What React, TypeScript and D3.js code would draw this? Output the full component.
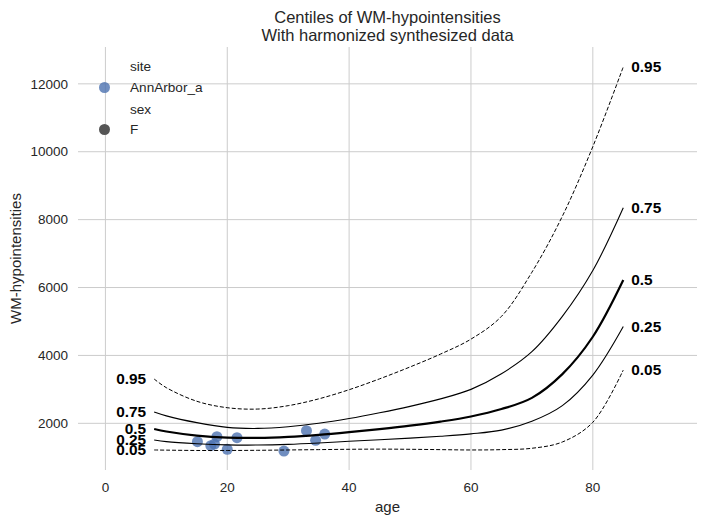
import React from 'react';
import * as d3 from 'd3';

// ages at which the centile curves are sampled
const ages = [8, 10, 15, 20, 25, 30, 35, 40, 45, 50, 55, 60, 65, 70, 75, 80, 85];

const c05 = [1215, 1210, 1200, 1200, 1205, 1215, 1225, 1235, 1240, 1235, 1225, 1215, 1225, 1265, 1450, 2030, 3570];
const c25 = [1508, 1460, 1400, 1365, 1360, 1380, 1420, 1470, 1515, 1565, 1620, 1690, 1800, 2060, 2520, 3420, 4850];
const c50 = [1832, 1760, 1640, 1580, 1570, 1600, 1660, 1740, 1830, 1930, 2050, 2200, 2420, 2750, 3450, 4550, 6220];
const c75 = [2333, 2220, 2020, 1880, 1850, 1900, 2000, 2140, 2310, 2500, 2720, 3000, 3460, 4110, 5150, 6500, 8350];
const c95 = [3305, 3050, 2650, 2460, 2420, 2520, 2720, 2990, 3310, 3660, 4040, 4480, 5150, 6450, 8100, 10150, 12500];

const centileLabels = ['0.05', '0.25', '0.5', '0.75', '0.95'];

// observed subjects (AnnArbor_a, F)
const subjAge = [15.1, 17.3, 17.9, 18.3, 20.0, 21.6, 29.3, 33.0, 34.5, 36.0];
const subjVal = [1458, 1340, 1390, 1605, 1234, 1576, 1184, 1782, 1499, 1685];

const xTicks = [0, 20, 40, 60, 80];
const yTicks = [2000, 4000, 6000, 8000, 10000, 12000];

const W = 708;
const H = 524;
const m = { left: 78, right: 697, top: 47, bottom: 470 };
const font = '"Liberation Sans", Arial, sans-serif';
const ink = '#262626';

export default function App() {
  const x = d3.scaleLinear().domain([-4.5, 97.1]).range([m.left, m.right]);
  const y = d3.scaleLinear().domain([625, 13085]).range([m.bottom, m.top]);

  const series = [c05, c25, c50, c75, c95];
  const line = d3
    .line<[number, number]>()
    .x((d) => x(d[0]))
    .y((d) => y(d[1]))
    .curve(d3.curveCatmullRom);

  const styleFor = (i: number) => {
    if (i === 0 || i === 4) return { w: 1, dash: '4,2' };
    if (i === 2) return { w: 2.2, dash: undefined };
    return { w: 1.1, dash: undefined };
  };

  const first = ages[0];
  const last = ages[ages.length - 1];

  return (
    <svg
      width={W}
      height={H}
      style={{ position: 'absolute', left: 0, top: 0, background: '#fff' }}
      fontFamily={font}
    >
      {/* grid */}
      {xTicks.map((t) => (
        <line key={'gx' + t} x1={x(t)} x2={x(t)} y1={m.top} y2={m.bottom} stroke="#cccccc" strokeWidth={1} />
      ))}
      {yTicks.map((t) => (
        <line key={'gy' + t} x1={m.left} x2={m.right} y1={y(t)} y2={y(t)} stroke="#cccccc" strokeWidth={1} />
      ))}

      {/* tick labels */}
      {xTicks.map((t) => (
        <text key={'tx' + t} x={x(t)} y={m.bottom + 22} textAnchor="middle" fontSize={13.5} fill={ink}>
          {t}
        </text>
      ))}
      {yTicks.map((t) => (
        <text key={'ty' + t} x={m.left - 10} y={y(t)} dy="0.35em" textAnchor="end" fontSize={13.5} fill={ink}>
          {t}
        </text>
      ))}

      {/* axis labels and title */}
      <text x={(m.left + m.right) / 2} y={512} textAnchor="middle" fontSize={15} fill={ink}>
        age
      </text>
      <text
        transform={`translate(21,${(m.top + m.bottom) / 2}) rotate(-90)`}
        textAnchor="middle"
        fontSize={15}
        fill={ink}
      >
        WM-hypointensities
      </text>
      <text x={(m.left + m.right) / 2} y={23} textAnchor="middle" fontSize={16.5} fill={ink}>
        Centiles of WM-hypointensities
      </text>
      <text x={(m.left + m.right) / 2} y={41} textAnchor="middle" fontSize={16.5} fill={ink}>
        With harmonized synthesized data
      </text>

      {/* scatter */}
      {subjAge.map((a, i) => (
        <circle key={'p' + i} cx={x(a)} cy={y(subjVal[i])} r={5.5} fill="#4c72b0" fillOpacity={0.8} />
      ))}

      {/* centile curves */}
      {series.map((s, i) => {
        const st = styleFor(i);
        return (
          <path
            key={'c' + i}
            d={line(ages.map((a, j) => [a, s[j]] as [number, number])) || ''}
            fill="none"
            stroke="#000"
            strokeWidth={st.w}
            strokeDasharray={st.dash}
          />
        );
      })}

      {/* centile labels */}
      {series.map((s, i) => (
        <g key={'l' + i} fontSize={15.4} fontWeight="bold" fill="#000">
          <text x={x(first) - 8} y={y(s[0])} dy="0.35em" textAnchor="end">
            {centileLabels[i]}
          </text>
          <text x={x(last) + 8} y={y(s[s.length - 1])} dy="0.35em" textAnchor="start">
            {centileLabels[i]}
          </text>
        </g>
      ))}

      {/* legend */}
      <g fontSize={13.6} fill={ink}>
        <text x={130} y={66} dy="0.35em">site</text>
        <circle cx={104.5} cy={87.5} r={5.5} fill="#4c72b0" fillOpacity={0.8} />
        <text x={130} y={87.5} dy="0.35em">AnnArbor_a</text>
        <text x={130} y={109} dy="0.35em">sex</text>
        <circle cx={104.5} cy={129.5} r={5.5} fill="#555555" />
        <text x={130} y={129.5} dy="0.35em">F</text>
      </g>
    </svg>
  );
}
